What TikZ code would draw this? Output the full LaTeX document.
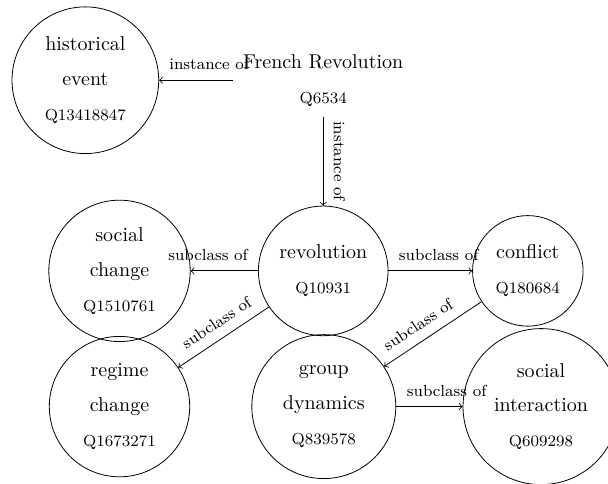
\documentclass[tikz,border=0pt]{standalone}
\usepackage{amsmath, amssymb}

\begin{document}
\begin{tikzpicture}
    \tikzstyle{every node}+=[inner sep=5pt]
    \tikzstyle{entry}=[align=center, font=\linespread{1.45}\selectfont]
    \tikzstyle{concept}=[entry, circle, draw]
    \tikzstyle{relation}=[font=\footnotesize, above, sloped]
    \useasboundingbox (0,0) rectangle (10.684,-8.488);
    \node [entry] (frenchrev) at (5.68,-1.41) {French Revolution\\{\footnotesize Q6534}};
    \node [concept] (histevent) at (1.5,-1.41) {historical\\event\\{\footnotesize Q13418847}};
    \node [concept] (revolution) at (5.68,-4.76) {revolution\\{\footnotesize Q10931}};
    \node [concept] (socchange) at (2.1,-4.76) {social\\change\\{\footnotesize Q1510761}};
    \node [concept] (conflict) at (9.275,-4.76) {conflict\\{\footnotesize Q180684}};
    \node [concept] (regchange) at (2.1,-7.145) {regime\\change\\{\footnotesize Q1673271}};
    \node [concept] (groupdyn) at (5.69,-7.145) {group\\dynamics\\{\footnotesize Q839578}};
    \node [concept] (socinter) at (9.507,-7.145) {social\\interaction\\{\footnotesize Q609298}};
    \draw [->] (frenchrev) -- (histevent) node [relation, pos=0.32] {instance of};
    \draw [->] (frenchrev) -- (revolution) node [relation, pos=0.5] {instance of};
    \draw [->] (revolution) -- (socchange) node [relation, pos=0.74] {subclass of};
    \draw [->] (revolution) -- (conflict) node [relation, pos=0.6] {subclass of};
    \draw [->] (revolution) -- (regchange) node [relation, pos=0.48] {subclass of};
    \draw [->] (conflict) -- (groupdyn) node [relation, pos=0.56] {subclass of};
    \draw [->] (groupdyn) -- (socinter) node [relation, pos=0.76] {subclass of};
\end{tikzpicture}
\end{document}
